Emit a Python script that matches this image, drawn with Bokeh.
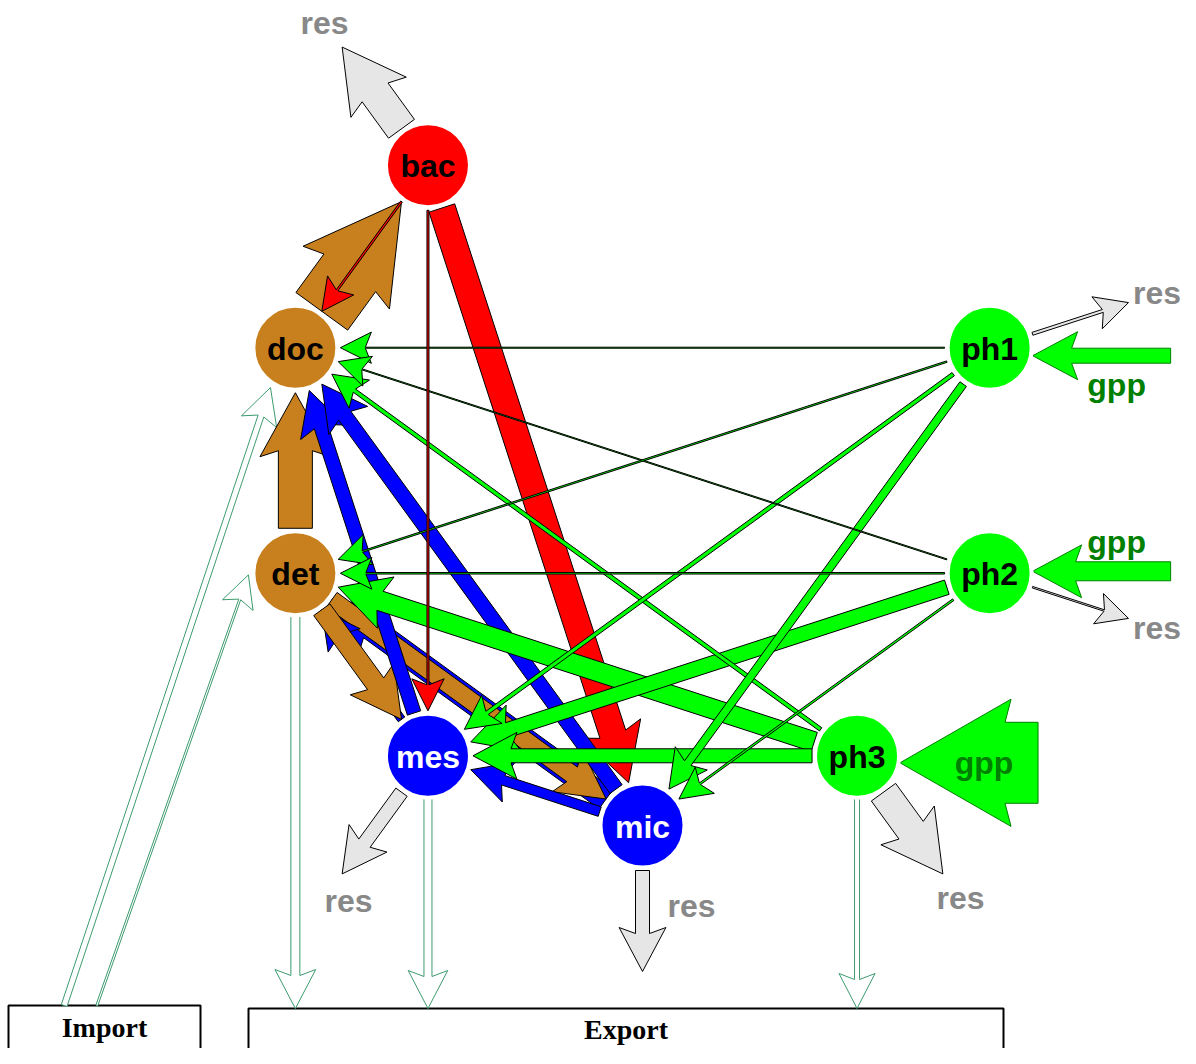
import math
from bokeh.plotting import figure
from bokeh.models import Range1d
from bokeh.core.properties import value
from bokeh.embed import file_html
from bokeh.resources import INLINE

# ---------------- data ----------------
node_names = ["mic", "ph3", "ph2", "ph1", "bac", "doc", "det", "mes"]
node_slot = [0, 1, 2, 3, 6, 7, 8, 9]          # slot on the 10-slot web circle
node_colors = ["#0000FF", "#00FF00", "#00FF00", "#00FF00", "#FF0000", "#C8801E", "#C8801E", "#0000FF"]
node_text_colors = ["white", "black", "black", "black", "black", "black", "black", "white"]

# internal flows (drawing order)
flow_src = ["mic", "det", "mes", "det", "det", "doc", "bac", "bac", "mes", "mic", "mic",
            "ph3", "ph2", "ph3", "ph3", "ph1", "ph1", "ph2", "ph1", "ph2", "ph1", "ph2", "bac"]
flow_dst = ["det", "mic", "det", "mes", "doc", "bac", "doc", "mic", "doc", "doc", "mes",
            "det", "mes", "mes", "doc", "mes", "mic", "mic", "doc", "doc", "det", "det", "mes"]
flow_val = [24, 18, 8, 20, 34, 64, 2, 27, 14, 15, 10,
            20, 15, 14, 4, 4, 8, 2, 1, 1, 1.5, 1.5, 2]

# respiration (out of system)
res_node = ["bac", "mes", "mic", "ph1", "ph2", "ph3"]
res_val = [32, 14, 14, 3, 1.5, 30]
# gross primary production (into system)
gpp_node = ["ph1", "ph2", "ph3"]
gpp_val = [15, 19, 81]
# import / export
imp_node = ["doc", "det"]
imp_val = [6, 2]
exp_node = ["det", "mes", "ph3"]
exp_val = [9, 8, 5]

# ---------------- layout ----------------
CX, CY, R = 642.0, 460.0, 365.0
NODE_R = 42
GAP = 45
pos = {}
for n, s in zip(node_names, node_slot):
    a = math.radians(270 + 36 * s)
    pos[n] = (CX + R * math.cos(a), CY - R * math.sin(a))
col = dict(zip(node_names, node_colors))

IMPORT_BOX = (8, 200, 1005)
EXPORT_BOX = (248, 1003, 1008)

gpp_dy = {"ph1": 8, "ph2": -2, "ph3": 7}
gpp_label_side = {"ph1": 1, "ph2": -1, "ph3": 0}
res_label_shift = {"mes": (24, 3), "mic": (49, -96)}
import_end_angle = {"doc": 122, "det": 178}   # screen degrees around node


def arrow_poly(x0, y0, x1, y1, w):
    dx, dy = x1 - x0, y1 - y0
    L = math.hypot(dx, dy)
    ux, uy = dx / L, dy / L
    px, py = -uy, ux
    H = 15 + 0.6 * w
    Lj = 24 + w
    Lb = Lj + 6
    hw = w / 2.0
    pts = [
        (x0 + px * hw, y0 + py * hw),
        (x0 + ux * (L - Lj) + px * hw, y0 + uy * (L - Lj) + py * hw),
        (x0 + ux * (L - Lb) + px * H, y0 + uy * (L - Lb) + py * H),
        (x1, y1),
        (x0 + ux * (L - Lb) - px * H, y0 + uy * (L - Lb) - py * H),
        (x0 + ux * (L - Lj) - px * hw, y0 + uy * (L - Lj) - py * hw),
        (x0 - px * hw, y0 - py * hw),
    ]
    return [q[0] for q in pts], [q[1] for q in pts]


p = figure(width=1180, height=1048, x_range=Range1d(0, 1180), y_range=Range1d(1048, 0),
           output_backend="svg", toolbar_location=None,
           x_axis_location=None, y_axis_location=None, min_border=0)
p.grid.visible = False
p.outline_line_color = None

FONT = value("Liberation Sans")
LBL = "32px"

# boxes
for (l, r_, t) in [IMPORT_BOX, EXPORT_BOX]:
    p.quad(left=[l], right=[r_], top=[t], bottom=[1075], fill_color="white",
           line_color="black", line_width=2)

# import arrows
bl, br, bt = IMPORT_BOX
for i, (n, v) in enumerate(zip(imp_node, imp_val)):
    sx = bl + (br - bl) * (0.29 + 0.17 * i)
    sy = bt
    nx, ny = pos[n]
    a = math.radians(import_end_angle[n])
    tx, ty = nx + 47 * math.cos(a), ny + 47 * math.sin(a)
    xs, ys = arrow_poly(sx, sy, tx, ty, v)
    p.patch(xs, ys, fill_color="white", line_color="#3C9A6E", line_width=1)

# export arrows
for n, v in zip(exp_node, exp_val):
    nx, ny = pos[n]
    xs, ys = arrow_poly(nx, ny + NODE_R, nx, EXPORT_BOX[2], v)
    p.patch(xs, ys, fill_color="white", line_color="#3C9A6E", line_width=1)

# res arrows
for n, v in zip(res_node, res_val):
    nx, ny = pos[n]
    d = math.hypot(nx - CX, ny - CY)
    ux, uy = (nx - CX) / d, (ny - CY) / d
    xs, ys = arrow_poly(nx + ux * GAP, ny + uy * GAP, nx + ux * 146, ny + uy * 146, v)
    p.patch(xs, ys, fill_color="#E6E6E6", line_color="black", line_width=1)
    lx, ly = nx + ux * 176, ny + uy * 176
    sh = res_label_shift.get(n, (0, 0))
    p.text([lx + sh[0]], [ly + sh[1]], text=["res"], text_font=FONT, text_font_style="bold",
           text_font_size=LBL, text_color="#888888", text_align="center", text_baseline="middle")

# gpp arrows
for n, v in zip(gpp_node, gpp_val):
    nx, ny = pos[n]
    y = ny + gpp_dy[n]
    xs, ys = arrow_poly(nx + 181, y, nx + 43, y, v)
    p.patch(xs, ys, fill_color="#00FF00", line_color="#008000", line_width=1)
    p.text([nx + 127], [y + 29 * gpp_label_side[n]], text=["gpp"], text_font=FONT,
           text_font_style="bold", text_font_size=LBL, text_color="#008000",
           text_align="center", text_baseline="middle")

# internal flows
for s, t, v in zip(flow_src, flow_dst, flow_val):
    x0, y0 = pos[s]
    x1, y1 = pos[t]
    d = math.hypot(x1 - x0, y1 - y0)
    ux, uy = (x1 - x0) / d, (y1 - y0) / d
    xs, ys = arrow_poly(x0 + ux * GAP, y0 + uy * GAP, x1 - ux * GAP, y1 - uy * GAP, v)
    p.patch(xs, ys, fill_color=col[s], line_color="black", line_width=1)

# nodes
p.circle([pos[n][0] for n in node_names], [pos[n][1] for n in node_names], radius=NODE_R,
         fill_color=node_colors, line_color="white", line_width=4)
p.text([pos[n][0] for n in node_names], [pos[n][1] + 1 for n in node_names], text=node_names,
       text_font=FONT, text_font_style="bold", text_font_size=LBL,
       text_color=node_text_colors, text_align="center", text_baseline="middle")

# box labels
p.text([(IMPORT_BOX[0] + IMPORT_BOX[1]) / 2], [1027], text=["Import"], text_font=value("Liberation Serif"),
       text_font_style="bold", text_font_size="28px", text_color="black",
       text_align="center", text_baseline="middle")
p.text([(EXPORT_BOX[0] + EXPORT_BOX[1]) / 2], [1029], text=["Export"], text_font=value("Liberation Serif"),
       text_font_style="bold", text_font_size="28px", text_color="black",
       text_align="center", text_baseline="middle")

open("out.html", "w").write(file_html(p, INLINE))
